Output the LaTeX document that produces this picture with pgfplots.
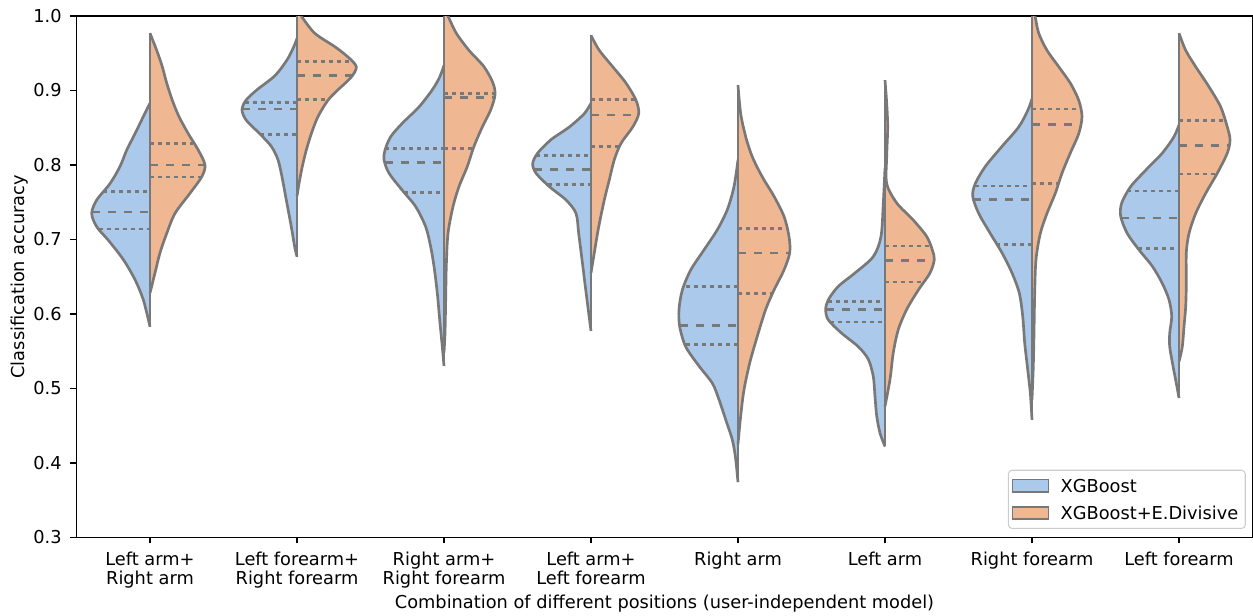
\documentclass[border=0pt]{standalone}
\usepackage{fontspec}
\setmainfont{DejaVu Sans}
\usepackage{pgfplots}
\usepackage{pgfplotstable}
\pgfplotsset{compat=1.18}
\definecolor{vblue}{RGB}{171,201,234}
\definecolor{vorange}{RGB}{239,183,146}
\definecolor{vgray}{RGB}{120,120,120}

% half-violin profiles: y = accuracy, w = half width (px, 147 px = 1 category)
\pgfplotstableread{
y w
0.883 0
0.865 6.7
0.842 15
0.820 23.3
0.798 30
0.775 40
0.753 53.3
0.735 58.3
0.717 53.3
0.699 41.7
0.673 26.7
0.646 15
0.619 6.7
0.583 0
}\tAb
\pgfplotstableread{
y w
0.977 0
0.954 6.7
0.932 12.3
0.910 16.7
0.887 22.3
0.865 29
0.842 38.3
0.820 48.3
0.800 55
0.784 51.7
0.762 40
0.735 25
0.708 16.7
0.682 10
0.655 5
0.628 0
}\tAo
\pgfplotstableread{
y w
0.970 0
0.958 3.5
0.941 10
0.920 22
0.901 40
0.887 51
0.874 55
0.860 50.7
0.842 37.3
0.825 25.7
0.807 19
0.784 15
0.753 10.7
0.717 5.7
0.690 2.3
0.677 0
}\tBb
\pgfplotstableread{
y w
1.010 0
1.000 4.3
0.977 17.7
0.959 37.7
0.945 51
0.932 59.3
0.918 54.3
0.901 41
0.887 31
0.865 21
0.842 14.3
0.820 9.3
0.798 5.3
0.775 2
0.758 0
}\tBo
\pgfplotstableread{
y w
0.934 0
0.918 4.3
0.901 11.7
0.878 25
0.856 41.7
0.838 53.3
0.820 59
0.807 60
0.789 55
0.766 41.7
0.744 28.3
0.717 18.3
0.690 13.3
0.664 10
0.628 6.7
0.592 4.3
0.556 1.7
0.530 0
}\tCb
\pgfplotstableread{
y w
1.010 0
1.000 4
0.977 12.3
0.954 25
0.932 40
0.910 49
0.894 51
0.874 46.7
0.851 38.3
0.825 30
0.798 23.3
0.771 15
0.744 9
0.708 4
0.664 2.3
0.619 1.7
0.574 1
0.548 0
}\tCo
\pgfplotstableread{
y w
0.883 0
0.869 6.7
0.851 21.7
0.834 40
0.816 53.3
0.802 58.3
0.789 55
0.771 41.7
0.753 25
0.735 15
0.708 12.3
0.673 9
0.637 5.7
0.601 2.3
0.577 0
}\tDb
\pgfplotstableread{
y w
0.974 0
0.954 8.3
0.932 21.7
0.910 35
0.887 45
0.869 47.7
0.851 41.7
0.829 30
0.807 23.3
0.780 18.3
0.753 13.3
0.717 7.7
0.682 3.3
0.655 0
}\tDo
\pgfplotstableread{
y w
0.807 0
0.771 4
0.740 10.7
0.713 20.7
0.686 34
0.659 47.3
0.632 55.7
0.606 59
0.583 58.3
0.556 52.3
0.530 39
0.507 25.7
0.485 19
0.458 12.3
0.431 5.7
0.407 2.5
0.374 0
}\tEb
\pgfplotstableread{
y w
0.907 0
0.869 2.7
0.838 7.7
0.811 14.3
0.784 24.3
0.758 36
0.731 46
0.704 51
0.682 51.7
0.659 46
0.632 36
0.606 27.7
0.570 19.3
0.534 11.7
0.498 6
0.463 2.7
0.425 0
}\tEo
\pgfplotstableread{
y w
0.796 0
0.749 1.7
0.704 4
0.677 11.7
0.655 30
0.637 46.7
0.619 56.7
0.606 59.3
0.592 56.7
0.574 43.3
0.556 26.7
0.539 16.7
0.516 11.7
0.489 10
0.463 8.3
0.440 5
0.422 0
}\tFb
\pgfplotstableread{
y w
0.914 0
0.883 1.7
0.851 2.7
0.811 1.7
0.775 1.7
0.749 11.7
0.726 28.3
0.704 41.7
0.686 47.3
0.673 49.3
0.655 45
0.632 33.3
0.606 21.7
0.579 13.3
0.548 8.3
0.512 5
0.476 0
}\tFo
\pgfplotstableread{
y w
0.889 0
0.874 4
0.851 13.3
0.825 30
0.798 46.7
0.775 56.7
0.758 59.3
0.735 53.3
0.708 41.7
0.682 30
0.655 20
0.628 12.7
0.597 9.3
0.561 7.3
0.530 4.7
0.494 1.7
0.458 0
}\tGb
\pgfplotstableread{
y w
1.010 0
1.000 3
0.977 6.7
0.954 15
0.932 26.7
0.910 38.3
0.887 46.7
0.865 50
0.842 46.7
0.816 38.3
0.789 30
0.762 23.3
0.735 15
0.708 8.3
0.673 4
0.628 2.7
0.574 2
0.530 1.3
0.485 0
}\tGo
\pgfplotstableread{
y w
0.854 0
0.838 5
0.816 16.7
0.793 33.3
0.771 48.3
0.749 57.3
0.731 58.3
0.708 51.7
0.686 40
0.664 26.7
0.641 16.7
0.619 10
0.597 7.3
0.574 9.3
0.556 9.3
0.530 6
0.507 2.7
0.487 0
}\tHb
\pgfplotstableread{
y w
0.977 0
0.954 6.7
0.932 16.7
0.905 30
0.878 41.7
0.851 48.3
0.834 51
0.816 48.3
0.789 38.3
0.762 26.7
0.735 16.7
0.708 10
0.682 7.3
0.641 7.3
0.610 6.7
0.583 5
0.556 3.3
0.536 0
}\tHo

\newcommand{\vL}[2]{%
  \addplot[forget plot, fill=vblue, draw=vgray, line width=1.5pt, smooth, tension=0.5, line join=round]
    table[x expr={#1-\thisrow{w}/147}, y=y] {#2};
  \addplot[forget plot, draw=vgray, line width=1.5pt] table[x expr={#1}, y=y] {#2};}
\newcommand{\vR}[2]{%
  \addplot[forget plot, fill=vorange, draw=vgray, line width=1.5pt, smooth, tension=0.5, line join=round]
    table[x expr={#1+\thisrow{w}/147}, y=y] {#2};
  \addplot[forget plot, draw=vgray, line width=1.5pt] table[x expr={#1}, y=y] {#2};}
% quartile lines: center, value, half width, dash style
\newcommand{\qL}[4]{%
  \addplot[forget plot, vgray, line width=1.5pt, #4]
    table[row sep=\\, x expr={#1-\thisrow{f}*#3/147}, y expr={#2}] {f\\1\\0\\};}
\newcommand{\qR}[4]{%
  \addplot[forget plot, vgray, line width=1.5pt, #4]
    table[row sep=\\, x expr={#1+(1-\thisrow{f})*#3/147}, y expr={#2}] {f\\1\\0\\};}
\tikzset{qd/.style={dash pattern=on 2.25pt off 2.25pt}, md/.style={dash pattern=on 4.5pt off 4.5pt}}

\begin{document}
\begin{tikzpicture}
\begin{axis}[name=ax, scale only axis, width=661.5pt, height=293.2pt,
  xmin=-0.5, xmax=7.5, ymin=0.3, ymax=1.0,
  xtick={0,1,2,3,4,5,6,7},
  xticklabels={{Left arm+\\Right arm},{Left forearm+\\Right forearm},{Right arm+\\Right forearm},{Left arm+\\Left forearm},{Right arm},{Left arm},{Right forearm},{Left forearm}},
  ytick={0.3,0.4,0.5,0.6,0.7,0.8,0.9,1.0},
  yticklabels={0.3,0.4,0.5,0.6,0.7,0.8,0.9,1.0},
  tick align=outside, major tick length=3.4pt,
  xtick pos=bottom, ytick pos=left,
  tick style={black, line width=0.8pt},
  axis line style={black, line width=0.8pt},
  xticklabel style={align=center, font=\fontsize{10}{10.7}\selectfont, inner xsep=0pt, inner ysep=4.6pt},
  yticklabel style={font=\fontsize{10}{12}\selectfont, inner xsep=4.8pt},
  xlabel={Combination of different positions (user-independent model)},
  ylabel={Classification accuracy},
  every axis x label/.style={at={(rel axis cs:0.5,0)}, anchor=base, yshift=-40.3pt},
  every axis y label/.style={at={(rel axis cs:0,0.5)}, xshift=-32pt, rotate=90, anchor=center},
  legend style={at={(1,0)}, anchor=south east, xshift=-3.8pt, yshift=4.7pt,
    draw=black!20, line width=0.6pt, rounded corners=2pt, fill=white,
    inner xsep=1.9pt, inner ysep=4pt, row sep=6.1pt, column sep=4.4pt,
    font=\fontsize{10}{12}\selectfont,
    nodes={inner xsep=2pt, inner ysep=1pt, text height=7.3pt, text depth=0pt}},
  legend cell align=left,
  legend image code/.code={\draw[#1, sharp corners, line width=0.8pt] (0pt,-3.45pt) rectangle (20.25pt,3.45pt);},
]
\vL{0}{\tAb} \vR{0}{\tAo}
\vL{1}{\tBb} \vR{1}{\tBo}
\vL{2}{\tCb} \vR{2}{\tCo}
\vL{3}{\tDb} \vR{3}{\tDo}
\vL{4}{\tEb} \vR{4}{\tEo}
\vL{5}{\tFb} \vR{5}{\tFo}
\vL{6}{\tGb} \vR{6}{\tGo}
\vL{7}{\tHb} \vR{7}{\tHo}
% quartiles
\qL{0}{0.764}{46.7}{qd} \qL{0}{0.737}{57.8}{md} \qL{0}{0.714}{51.4}{qd}
\qR{0}{0.829}{43.3}{qd} \qR{0}{0.800}{55}{md} \qR{0}{0.784}{51.7}{qd}
\qL{1}{0.884}{52.3}{qd} \qL{1}{0.875}{54.5}{md} \qL{1}{0.841}{36.5}{qd}
\qR{1}{0.939}{56}{qd} \qR{1}{0.920}{55}{md} \qR{1}{0.888}{31.5}{qd}
\qL{2}{0.822}{59}{qd} \qL{2}{0.803}{59}{md} \qL{2}{0.763}{40}{qd}
\qR{2}{0.896}{51}{qd} \qR{2}{0.891}{51}{md} \qR{2}{0.822}{29}{qd}
\qL{3}{0.813}{55}{qd} \qL{3}{0.794}{56.7}{md} \qL{3}{0.774}{43.3}{qd}
\qR{3}{0.888}{44.5}{qd} \qR{3}{0.867}{47.5}{md} \qR{3}{0.825}{28.5}{qd}
\qL{4}{0.637}{52}{qd} \qL{4}{0.584}{58.3}{md} \qL{4}{0.559}{52.5}{qd}
\qR{4}{0.715}{49}{qd} \qR{4}{0.682}{51.7}{md} \qR{4}{0.627}{34.5}{qd}
\qL{5}{0.617}{57}{qd} \qL{5}{0.606}{59.3}{md} \qL{5}{0.589}{55}{qd}
\qR{5}{0.691}{46}{qd} \qR{5}{0.672}{49.3}{md} \qR{5}{0.643}{39}{qd}
\qL{6}{0.772}{57.3}{qd} \qL{6}{0.754}{59}{md} \qL{6}{0.693}{36}{qd}
\qR{6}{0.875}{48.5}{qd} \qR{6}{0.854}{48.5}{md} \qR{6}{0.775}{26.5}{qd}
\qL{7}{0.765}{52}{qd} \qL{7}{0.729}{58.3}{md} \qL{7}{0.688}{41}{qd}
\qR{7}{0.860}{46.5}{qd} \qR{7}{0.826}{50}{md} \qR{7}{0.788}{38}{qd}
\addlegendimage{fill=vblue, draw=vgray}
\addlegendentry{XGBoost}
\addlegendimage{fill=vorange, draw=vgray}
\addlegendentry{XGBoost+E.Divisive}
\end{axis}
\pgfresetboundingbox
\path[use as bounding box] ([xshift=-43.03pt,yshift=-43.71pt]ax.south west) rectangle ++(704.81pt,345.94pt);
\end{tikzpicture}
\end{document}
